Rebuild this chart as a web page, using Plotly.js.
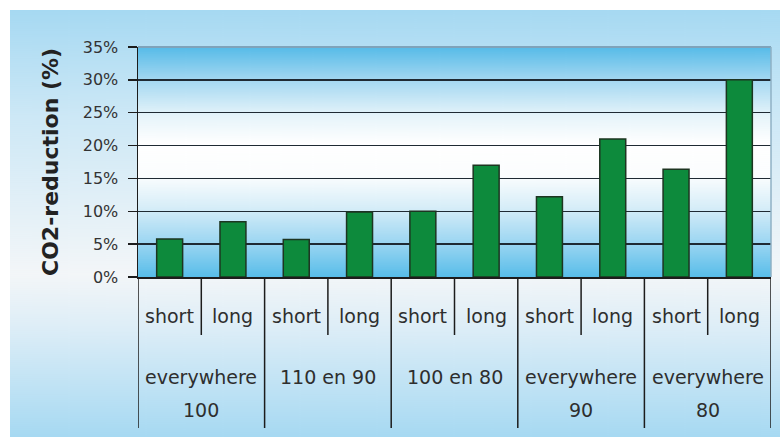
<!DOCTYPE html>
<html><head><meta charset="utf-8">
<script src="https://cdn.plot.ly/plotly-3.0.1.min.js"></script>
<style>html,body{margin:0;padding:0;background:#fff}</style>
</head><body><div id="chart" style="width:780px;height:437px"></div>
<script>
// ---- data ----
const subLabels = ['short','long','short','long','short','long','short','long','short','long'];
const groupLine1 = ['everywhere','110 en 90','100 en 80','everywhere','everywhere'];
const groupLine2 = ['100','','','90','80'];
const reductions = [0.058, 0.084, 0.057, 0.099, 0.100, 0.170, 0.122, 0.210, 0.164, 0.300];
const yTickVals = [0, 0.05, 0.10, 0.15, 0.20, 0.25, 0.30, 0.35];
const yTitle = 'CO2-reduction (%)';

// ---- geometry (pixels) ----
const W = 780, H = 437;
const M = {l: 138, r: 9, t: 47, b: 160};
const PW = W - M.l - M.r, PH = H - M.t - M.b;
const px2x = x => (x - M.l) / PW;
const px2y = y => (H - M.b - y) / PH;

function gradientURL(w, h, stops) {
  const c = document.createElement('canvas');
  c.width = w; c.height = h;
  const ctx = c.getContext('2d');
  const g = ctx.createLinearGradient(0, 0, 0, h);
  stops.forEach(s => g.addColorStop(s[0], s[1]));
  ctx.fillStyle = g;
  ctx.fillRect(0, 0, w, h);
  return c.toDataURL('image/png');
}

const outerBg = gradientURL(20, 427, [
  [0, '#a6d9f2'], [0.25, '#cde8f6'], [0.62, '#f3f6f8'], [0.75, '#dcedf7'], [1, '#a6d9f2']
]);
const plotBg = gradientURL(20, 230, [
  [0, '#56bbe8'], [0.14, '#a2d7f1'], [0.3, '#e6f4fa'], [0.42, '#ffffff'],
  [0.56, '#fbfdfe'], [0.7, '#d6edf8'], [0.85, '#9cd6f2'], [1, '#58bde9']
]);

const txtFont = {family: 'DejaVu Sans, sans-serif', size: 19, color: '#2e2e2e'};

const annotations = [];
subLabels.forEach((s, i) => annotations.push({
  x: i, xref: 'x', y: px2y(316), yref: 'paper', text: s, showarrow: false,
  xanchor: 'center', yanchor: 'middle', font: txtFont
}));
groupLine1.forEach((s, g) => {
  annotations.push({x: 2 * g + 0.5, xref: 'x', y: px2y(377), yref: 'paper', text: s,
    showarrow: false, xanchor: 'center', yanchor: 'middle', font: txtFont});
  if (groupLine2[g]) annotations.push({x: 2 * g + 0.5, xref: 'x', y: px2y(410), yref: 'paper',
    text: groupLine2[g], showarrow: false, xanchor: 'center', yanchor: 'middle', font: txtFont});
});
annotations.push({
  x: px2x(50), xref: 'paper', y: 0.5, yref: 'paper', text: yTitle, textangle: -90,
  showarrow: false, xanchor: 'center', yanchor: 'middle',
  font: {family: 'DejaVu Sans, sans-serif', size: 22, color: '#222', weight: 'bold'}
});

const shapes = [];
for (let k = 0; k <= subLabels.length; k++) {
  const groupEdge = k % 2 === 0;
  shapes.push({type: 'line', xref: 'x', yref: 'paper', x0: k - 0.5, x1: k - 0.5,
    y0: 0, y1: groupEdge ? px2y(428) : px2y(335),
    line: {color: '#1c1c1c', width: 1.5}});
}
shapes.push({type: 'line', xref: 'paper', yref: 'paper', x0: 0, x1: 1, y0: 1, y1: 1,
  line: {color: '#7fa3ba', width: 2}, layer: 'above'});
shapes.push({type: 'line', xref: 'paper', yref: 'paper', x0: 1, x1: 1, y0: 0, y1: 1,
  line: {color: '#8fb0c4', width: 1.5}, layer: 'above'});

const trace = {
  type: 'bar',
  x: subLabels.map((_, i) => i),
  y: reductions,
  width: 0.41,
  marker: {color: '#0d8a3c', line: {color: '#1d3521', width: 1.5}},
  hoverinfo: 'skip'
};

const layout = {
  width: W, height: H,
  margin: M,
  paper_bgcolor: '#ffffff',
  plot_bgcolor: 'rgba(0,0,0,0)',
  showlegend: false,
  bargap: 0.59,
  images: [
    {source: outerBg, xref: 'paper', yref: 'paper', x: px2x(10), y: px2y(10),
     sizex: px2x(W) - px2x(10), sizey: px2y(10) - px2y(H), sizing: 'stretch',
     xanchor: 'left', yanchor: 'top', layer: 'below'},
    {source: plotBg, xref: 'paper', yref: 'paper', x: 0, y: 1, sizex: 1, sizey: 1,
     sizing: 'stretch', xanchor: 'left', yanchor: 'top', layer: 'below'}
  ],
  xaxis: {
    type: 'linear', range: [-0.5, 9.5], showticklabels: false, showgrid: false,
    zeroline: false, showline: true, linecolor: '#1c1c1c', linewidth: 1.5, ticks: '',
    fixedrange: true
  },
  yaxis: {
    range: [0, 0.35], tickvals: yTickVals, tickformat: '.0%',
    ticks: 'outside', ticklen: 9, tickwidth: 1.5, tickcolor: '#1c1c1c',
    showgrid: true, gridcolor: '#1f2a33', gridwidth: 1.5,
    showline: true, linecolor: '#1c1c1c', linewidth: 1.5, zeroline: false,
    tickfont: {family: 'DejaVu Sans, sans-serif', size: 16, color: '#333'},
    ticklabelstandoff: 6, automargin: false, fixedrange: true
  },
  annotations: annotations,
  shapes: shapes
};

Plotly.newPlot('chart', [trace], layout, {staticPlot: true, displayModeBar: false});
</script>
</body></html>
